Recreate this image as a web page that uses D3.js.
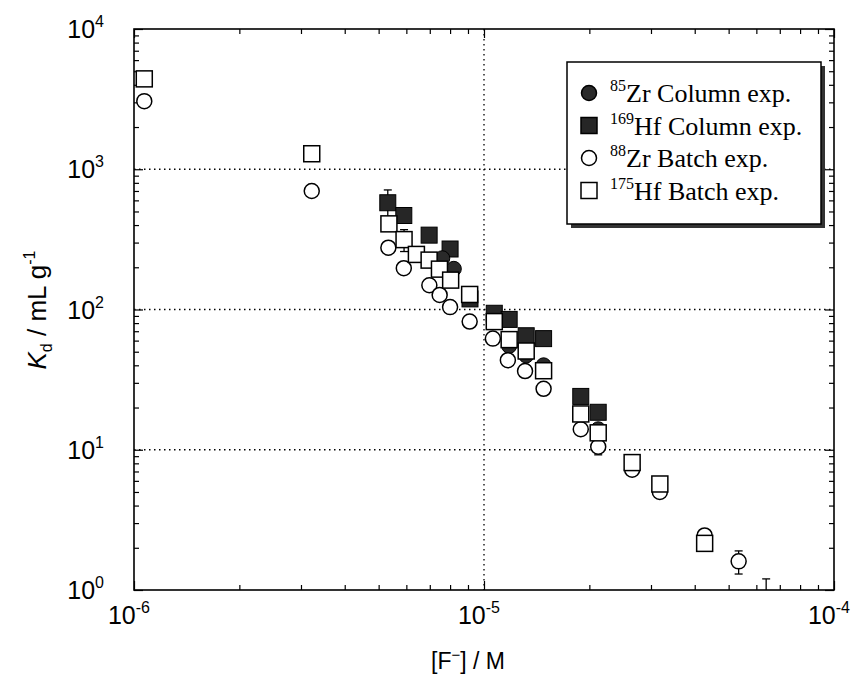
<!DOCTYPE html>
<html>
<head>
<meta charset="utf-8">
<script src="https://cdn.jsdelivr.net/npm/d3@7"></script>
<style>
  body { margin: 0; background: #fff; }
  svg { display: block; }
</style>
</head>
<body>
<script>
// ---- data ----
// 169Hf column experiment (filled squares)
var hfColX   = [5.31e-6, 5.90e-6, 6.97e-6, 8.0e-6, 9.12e-6, 1.07e-5, 1.18e-5, 1.32e-5, 1.48e-5, 1.89e-5, 2.12e-5];
var hfColKd  = [577, 468, 339, 270, 119, 94, 85, 65, 62, 24, 18.5];
var hfColErr = [135, 0, 0, 0, 0, 0, 0, 0, 0, 0, 0];

// 85Zr column experiment (filled circles, mostly hidden)
var zrColX  = [7.6e-6, 8.2e-6, 1.18e-5, 1.32e-5, 1.48e-5, 2.12e-5];
var zrColKd = [232, 195, 55, 47, 40, 14];

// 88Zr batch experiment (open circles)
var zrBatX   = [1.07e-6, 3.22e-6, 5.33e-6, 5.9e-6, 6.98e-6, 7.47e-6, 8.0e-6, 9.1e-6, 1.06e-5, 1.17e-5, 1.31e-5, 1.48e-5, 1.89e-5, 2.12e-5, 2.65e-5, 3.18e-5, 4.27e-5, 5.34e-5, 6.4e-5];
var zrBatKd  = [3060, 700, 276, 197, 149, 127, 104, 82, 62, 43.5, 36.4, 27.2, 14, 10.5, 7.2, 5.0, 2.45, 1.6, 0.8];
var zrBatErr = [0, 0, 0, 0, 0, 0, 0, 0, 0, 0, 0, 0, 0, 1.3, 0, 0, 0, 0.3, 0.4];

// 175Hf batch experiment (open squares)
var hfBatX   = [1.07e-6, 3.22e-6, 5.35e-6, 5.91e-6, 6.41e-6, 6.97e-6, 7.46e-6, 8.03e-6, 9.1e-6, 1.07e-5, 1.18e-5, 1.32e-5, 1.48e-5, 1.89e-5, 2.12e-5, 2.65e-5, 3.18e-5, 4.27e-5];
var hfBatKd  = [4410, 1290, 408, 315, 247, 225, 194, 162, 128, 82, 61, 50.6, 36.6, 18, 13.2, 8.1, 5.7, 2.15];
var hfBatErr = [0, 0, 0, 56, 0, 0, 0, 0, 0, 0, 0, 0, 0, 0, 0, 0, 0, 0];

var xTickExp = [-6, -5, -4];
var yTickExp = [0, 1, 2, 3, 4];
var legendIso  = ["85", "169", "88", "175"];
var legendText = ["Zr Column exp.", "Hf Column exp.", "Zr Batch exp.", "Hf Batch exp."];
var legendKind = ["fcircle", "fsquare", "ocircle", "osquare"];

// ---- layout ----
var W = 854, H = 696;
var L = 134, R = 834, T = 29, B = 590;

var svg = d3.select("body").append("svg")
    .attr("width", W)
    .attr("height", H);

var x = d3.scaleLog().domain([1e-6, 1e-4]).range([L, R]);
var y = d3.scaleLog().domain([1, 1e4]).range([B, T]);

svg.append("clipPath").attr("id", "plotclip")
  .append("rect").attr("x", L).attr("y", T).attr("width", R - L).attr("height", B - T);

// dotted grid lines
var grid = svg.append("g").attr("stroke", "#000").attr("stroke-width", 1.3).attr("stroke-dasharray", "1.5,3.5");
[10, 100, 1000].forEach(function(v){
  grid.append("line").attr("x1", L).attr("x2", R).attr("y1", y(v)).attr("y2", y(v));
});
grid.append("line").attr("x1", x(1e-5)).attr("x2", x(1e-5)).attr("y1", T).attr("y2", B);

// ticks inside on all four sides
var xMinor = [], yMinor = [];
for (var e = -6; e < -4; e++) for (var k = 2; k < 10; k++) xMinor.push(k * Math.pow(10, e));
for (var e2 = 0; e2 < 4; e2++) for (var k2 = 2; k2 < 10; k2++) yMinor.push(k2 * Math.pow(10, e2));
var xMajor = xTickExp.map(function(p){ return Math.pow(10, p); });
var yMajor = yTickExp.map(function(p){ return Math.pow(10, p); });

function addAxis(gen, tr, vals, size) {
  var g = svg.append("g").attr("transform", tr)
    .call(gen.tickValues(vals).tickSize(size).tickFormat(""));
  g.select(".domain").remove();
  g.selectAll("line").attr("stroke", "#000").attr("stroke-width", 1.2);
}
addAxis(d3.axisBottom(x), "translate(0," + B + ")", xMajor, -9);
addAxis(d3.axisBottom(x), "translate(0," + B + ")", xMinor, -5);
addAxis(d3.axisTop(x), "translate(0," + T + ")", xMajor, -9);
addAxis(d3.axisTop(x), "translate(0," + T + ")", xMinor, -5);
addAxis(d3.axisLeft(y), "translate(" + L + ",0)", yMajor, -9);
addAxis(d3.axisLeft(y), "translate(" + L + ",0)", yMinor, -5);
addAxis(d3.axisRight(y), "translate(" + R + ",0)", yMajor, -9);
addAxis(d3.axisRight(y), "translate(" + R + ",0)", yMinor, -5);

svg.append("rect").attr("x", L).attr("y", T).attr("width", R - L).attr("height", B - T)
  .attr("fill", "none").attr("stroke", "#000").attr("stroke-width", 1.6);

// tick labels
var tickFont = "'Liberation Sans', Arial, sans-serif";
yTickExp.forEach(function(p){
  var t = svg.append("text").attr("x", 104).attr("y", y(Math.pow(10, p)) + 9)
    .attr("text-anchor", "end").attr("font-family", tickFont).attr("font-size", 25);
  t.append("tspan").text("10");
  t.append("tspan").attr("dy", -11).attr("font-size", 16).text(p);
});
xTickExp.forEach(function(p){
  var t = svg.append("text").attr("x", x(Math.pow(10, p)) - 5).attr("y", 624)
    .attr("text-anchor", "middle").attr("font-family", tickFont).attr("font-size", 25);
  t.append("tspan").text("10");
  t.append("tspan").attr("dy", -11).attr("font-size", 16).text(p);
});

// axis titles
var xt = svg.append("text").attr("x", 468).attr("y", 669).attr("text-anchor", "middle")
  .attr("font-family", tickFont).attr("font-size", 23);
xt.append("tspan").text("[F");
xt.append("tspan").attr("dy", -9).attr("font-size", 15).text("\u2212");
xt.append("tspan").attr("dy", 9).text("] / M");

var yt = svg.append("text").attr("transform", "translate(46,310) rotate(-90)")
  .attr("text-anchor", "middle").attr("font-family", tickFont).attr("font-size", 26);
yt.append("tspan").attr("font-style", "italic").text("K");
yt.append("tspan").attr("dy", 6).attr("font-size", 16).text("d");
yt.append("tspan").attr("dy", -6).text(" / mL g");
yt.append("tspan").attr("dy", -11).attr("font-size", 16).text("-1");

// ---- markers ----
var S = 16, RC = 7.5;
var plot = svg.append("g").attr("clip-path", "url(#plotclip)");

function errBars(xs, ys, es) {
  var g = plot.append("g").attr("stroke", "#000").attr("stroke-width", 1.3);
  xs.forEach(function(xv, i){
    if (!es[i]) return;
    var cx = x(xv), y1 = y(ys[i] + es[i]), y0 = y(Math.max(ys[i] - es[i], 0.05));
    g.append("line").attr("x1", cx).attr("x2", cx).attr("y1", y1).attr("y2", y0);
    g.append("line").attr("x1", cx - 4).attr("x2", cx + 4).attr("y1", y1).attr("y2", y1);
    g.append("line").attr("x1", cx - 4).attr("x2", cx + 4).attr("y1", y0).attr("y2", y0);
  });
}

errBars(hfColX, hfColKd, hfColErr);
errBars(zrBatX, zrBatKd, zrBatErr);
errBars(hfBatX, hfBatKd, hfBatErr);

plot.append("g").selectAll("rect").data(d3.range(hfColX.length)).join("rect")
  .attr("x", function(i){ return x(hfColX[i]) - S / 2; })
  .attr("y", function(i){ return y(hfColKd[i]) - S / 2; })
  .attr("width", S).attr("height", S)
  .attr("fill", "#262626").attr("stroke", "#000").attr("stroke-width", 1);

plot.append("g").selectAll("circle").data(d3.range(zrColX.length)).join("circle")
  .attr("cx", function(i){ return x(zrColX[i]); })
  .attr("cy", function(i){ return y(zrColKd[i]); })
  .attr("r", RC).attr("fill", "#2a2a2a").attr("stroke", "#000").attr("stroke-width", 1);

plot.append("g").selectAll("circle").data(d3.range(zrBatX.length)).join("circle")
  .attr("cx", function(i){ return x(zrBatX[i]); })
  .attr("cy", function(i){ return y(zrBatKd[i]); })
  .attr("r", RC).attr("fill", "#fff").attr("stroke", "#000").attr("stroke-width", 1.5);

plot.append("g").selectAll("rect").data(d3.range(hfBatX.length)).join("rect")
  .attr("x", function(i){ return x(hfBatX[i]) - S / 2; })
  .attr("y", function(i){ return y(hfBatKd[i]) - S / 2; })
  .attr("width", S).attr("height", S)
  .attr("fill", "#fff").attr("stroke", "#000").attr("stroke-width", 1.5);

// ---- legend ----
var lg = svg.append("g").attr("transform", "translate(567,62)");
lg.append("rect").attr("x", 4).attr("y", 4).attr("width", 254).attr("height", 162).attr("fill", "#333");
lg.append("rect").attr("x", 0).attr("y", 0).attr("width", 254).attr("height", 162)
  .attr("fill", "#fff").attr("stroke", "#000").attr("stroke-width", 1.5);

legendKind.forEach(function(kind, i){
  var cy = 31 + i * 32.5, cx = 22;
  if (kind === "fcircle" || kind === "ocircle") {
    lg.append("circle").attr("cx", cx).attr("cy", cy).attr("r", RC)
      .attr("fill", kind === "fcircle" ? "#2a2a2a" : "#fff").attr("stroke", "#000").attr("stroke-width", 1.5);
  } else {
    lg.append("rect").attr("x", cx - S / 2).attr("y", cy - S / 2).attr("width", S).attr("height", S)
      .attr("fill", kind === "fsquare" ? "#262626" : "#fff").attr("stroke", "#000").attr("stroke-width", 1.5);
  }
  var t = lg.append("text").attr("x", 43).attr("y", cy + 9)
    .attr("font-family", "'Liberation Serif', 'Times New Roman', serif").attr("font-size", 26);
  t.append("tspan").attr("dy", -11).attr("font-size", 16).text(legendIso[i]);
  t.append("tspan").attr("dy", 11).text(legendText[i]);
});
</script>
</body>
</html>
